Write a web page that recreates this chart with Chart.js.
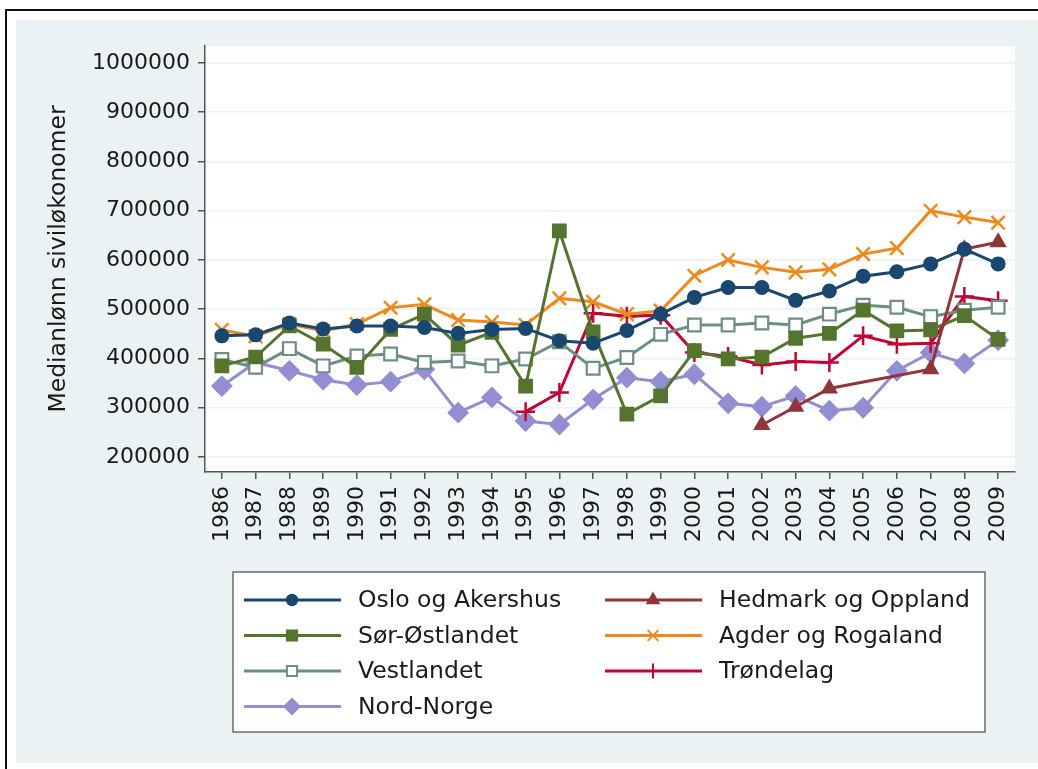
<!DOCTYPE html>
<html>
<head>
<meta charset="utf-8">
<title>Medianlønn siviløkonomer</title>
<script src="https://cdn.jsdelivr.net/npm/chart.js@4.4.0/dist/chart.umd.min.js"></script>
<style>
  html, body { margin: 0; padding: 0; background: #fff; }
  canvas { display: block; }
</style>
</head>
<body>
<canvas id="chart" width="1038" height="769"></canvas>
<script>
// Medianlønn siviløkonomer per region, 1986-2009
const years = ['1986', '1987', '1988', '1989', '1990', '1991', '1992', '1993', '1994', '1995', '1996', '1997',
               '1998', '1999', '2000', '2001', '2002', '2003', '2004', '2005', '2006', '2007', '2008', '2009'];
const yTicks = [200000, 300000, 400000, 500000, 600000, 700000, 800000, 900000, 1000000];

const osloAkershus = [446000, 448000, 472000, 460000, 466000, 466000, 463000, 451000, 459000, 461000, 436000, 431000,
                      457000, 490000, 524000, 544000, 544000, 518000, 537000, 567000, 576000, 592000, 622000, 592000];
const hedmarkOppland = [null, null, null, null, null, null, null, null, null, null, null, null,
                        null, null, null, null, 265000, 302000, 339000, null, null, 378000, 622000, 636000];
const sorOstlandet = [385000, 403000, 466000, 429000, 382000, 459000, 490000, 427000, 453000, 344000, 659000, 454000,
                      287000, 324000, 416000, 399000, 403000, 441000, 451000, 498000, 456000, 458000, 487000, 439000];
const agderRogaland = [458000, 445000, 470000, 456000, 470000, 503000, 510000, 478000, 474000, 468000, 522000, 515000,
                       490000, 497000, 568000, 600000, 585000, 575000, 581000, 612000, 624000, 700000, 687000, 676000];
const vestlandet = [398000, 382000, 420000, 385000, 405000, 409000, 392000, 395000, 385000, 399000, 434000, 380000,
                    402000, 449000, 468000, 468000, 472000, 468000, 490000, 508000, 504000, 485000, 498000, 504000];
const trondelag = [null, null, null, null, null, null, null, null, null, 292000, 331000, 492000,
                   486000, 488000, 412000, 404000, 387000, 394000, 392000, 446000, 429000, 431000, 526000, 517000];
const nordNorge = [344000, 392000, 375000, 357000, 346000, 353000, 378000, 290000, 321000, 273000, 266000, 317000,
                   361000, 353000, 368000, 309000, 302000, 324000, 294000, 300000, 375000, 412000, 390000, 437000];

const BG = '#eaf2f3';
const FONT = 'DejaVu Sans';

function serie(label, data, color, style, radius, bw, fill) {
  return {
    label, data,
    borderColor: color,
    backgroundColor: fill || color,
    borderWidth: 3,
    pointStyle: style,
    pointRadius: radius,
    pointBorderWidth: bw,
    pointBackgroundColor: fill || color,
    pointBorderColor: color,
    tension: 0,
    spanGaps: true
  };
}

// stata-rekkefølge (rad for rad i legenden)
const datasets = [
  serie('Oslo og Akershus', osloAkershus, '#1a476f', 'circle', 6.5, 2),
  serie('Hedmark og Oppland', hedmarkOppland, '#90353b', 'triangle', 8, 2),
  serie('Sør-Østlandet', sorOstlandet, '#55752f', 'rect', 9, 2),
  serie('Agder og Rogaland', agderRogaland, '#ec8a1e', 'crossRot', 9.5, 2.5),
  serie('Vestlandet', vestlandet, '#6e8e84', 'rect', 9, 2.2, '#ffffff'),
  serie('Trøndelag', trondelag, '#c10534', 'cross', 9.5, 2.5),
  serie('Nord-Norge', nordNorge, '#938dd2', 'rectRot', 9.5, 2)
];

// bakgrunn, ramme og hvitt plottområde
const bakgrunn = {
  id: 'bakgrunn',
  beforeDraw(chart) {
    const { ctx, width, height, chartArea: a } = chart;
    ctx.save();
    ctx.fillStyle = '#fff';
    ctx.fillRect(0, 0, width, height);
    ctx.fillStyle = BG;
    ctx.fillRect(16, 20, width - 16, 743);
    ctx.strokeStyle = '#111';
    ctx.lineWidth = 2;
    ctx.beginPath();
    ctx.moveTo(6, height); ctx.lineTo(6, 10); ctx.lineTo(width, 10);
    ctx.stroke();
    ctx.fillStyle = '#fff';
    ctx.fillRect(a.left, a.top, a.right - a.left, a.bottom - a.top);
    ctx.restore();
  }
};

// legende i to kolonner som i originalen
const legende = {
  id: 'legende',
  afterDraw(chart) {
    const ctx = chart.ctx;
    ctx.save();
    ctx.fillStyle = '#fff';
    ctx.fillRect(233, 572, 752, 160);
    ctx.strokeStyle = '#6b6b6b';
    ctx.lineWidth = 1.5;
    ctx.strokeRect(233, 572, 752, 160);
    ctx.font = `23.5px "${FONT}"`;
    ctx.textBaseline = 'middle';
    chart.data.datasets.forEach((ds, i) => {
      const x0 = i % 2 ? 605 : 244;
      const y = 600 + Math.floor(i / 2) * 35.5;
      ctx.strokeStyle = ds.borderColor;
      ctx.lineWidth = 3;
      ctx.beginPath();
      ctx.moveTo(x0, y); ctx.lineTo(x0 + 97, y);
      ctx.stroke();
      ctx.fillStyle = ds.pointBackgroundColor;
      ctx.lineWidth = 2;
      Chart.helpers.drawPoint(ctx, {
        pointStyle: ds.pointStyle,
        radius: ds.pointRadius * 0.8,
        borderWidth: 2,
        rotation: 0
      }, x0 + 48, y);
      ctx.fillStyle = '#1a1a1a';
      ctx.fillText(ds.label, x0 + 114, y + 1);
    });
    ctx.restore();
  }
};

Chart.defaults.font.family = FONT;
Chart.defaults.font.size = 22;
Chart.defaults.color = '#1a1a1a';

new Chart(document.getElementById('chart'), {
  type: 'line',
  data: { labels: years, datasets },
  options: {
    responsive: false,
    devicePixelRatio: 1,
    animation: false,
    layout: { padding: { top: 46, right: 23, bottom: 0, left: 0 } },
    plugins: { legend: { display: false }, tooltip: { enabled: false } },
    scales: {
      x: {
        type: 'category',
        offset: true,
        afterFit: s => { s.height = 297; },
        grid: { drawOnChartArea: false, tickLength: 7, tickColor: '#555', lineWidth: 1.5 },
        border: { color: '#555', width: 1.5 },
        ticks: { minRotation: 90, maxRotation: 90, padding: 7, autoSkip: false, color: '#1a1a1a' }
      },
      y: {
        min: 169500,
        max: 1034500,
        afterFit: s => { s.width = 205; },
        afterBuildTicks: s => { s.ticks = yTicks.map(v => ({ value: v })); },
        grid: { color: BG, lineWidth: 1.5, tickLength: 7, tickColor: '#555' },
        border: { color: '#555', width: 1.5 },
        ticks: { padding: 8, color: '#1a1a1a', callback: v => String(v) },
        title: {
          display: true, text: 'Medianlønn siviløkonomer', color: '#1a1a1a',
          font: { size: 23.5 }, padding: { top: 45, bottom: 0 }
        }
      }
    }
  },
  plugins: [bakgrunn, legende]
});
</script>
</body>
</html>
